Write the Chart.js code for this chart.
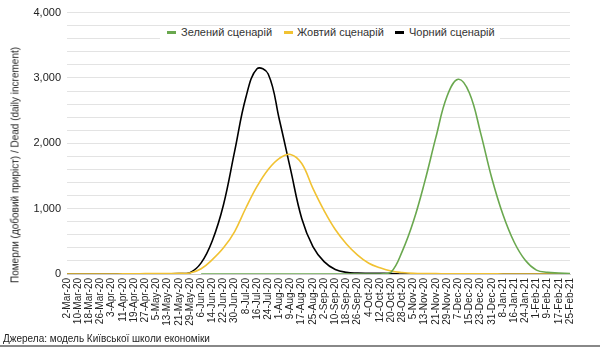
<!DOCTYPE html>
<html>
<head>
<meta charset="utf-8">
<script src="https://cdn.jsdelivr.net/npm/chart.js@4/dist/chart.umd.min.js"></script>
<style>
  body { margin: 0; background: #fff; }
  #wrap { position: relative; width: 600px; height: 348px; font-family: "Liberation Sans", Arial, sans-serif; }
  #ytitle { position: absolute; left: 15px; top: 165px; transform: translate(-50%, -50%) rotate(-90deg); white-space: nowrap; font-size: 10px; color: #222; }
  #legend { position: absolute; left: 160px; top: 26px; width: 340px; height: 14px; background: #fff; }
  .item { position: absolute; top: 0; font-size: 11px; color: #333; line-height: 13px; white-space: nowrap; }
  .mark { position: absolute; top: 5px; width: 9px; height: 3px; }
  #source { position: absolute; left: 3px; top: 333px; font-size: 10px; color: #222; white-space: nowrap; }
  #rule { position: absolute; left: 0; top: 345px; width: 600px; height: 2px; background: #888; }
</style>
</head>
<body>
<div id="wrap">
  <canvas id="chart" width="600" height="348"></canvas>
  <div id="ytitle">Померли (добовий приріст) / Dead (daily increment)</div>
  <div id="legend"></div>
  <div id="source">Джерела: модель Київської школи економіки</div>
  <div id="rule"></div>
</div>
<script>
// tick dates, every 8 days
var dates = [
  "2-Mar-20", "10-Mar-20", "18-Mar-20", "26-Mar-20", "3-Apr-20", "11-Apr-20", "19-Apr-20", "27-Apr-20",
  "5-May-20", "13-May-20", "21-May-20", "29-May-20", "6-Jun-20", "14-Jun-20", "22-Jun-20", "30-Jun-20",
  "8-Jul-20", "16-Jul-20", "24-Jul-20", "1-Aug-20", "9-Aug-20", "17-Aug-20", "25-Aug-20", "2-Sep-20",
  "10-Sep-20", "18-Sep-20", "26-Sep-20", "4-Oct-20", "12-Oct-20", "20-Oct-20", "28-Oct-20", "5-Nov-20",
  "13-Nov-20", "21-Nov-20", "29-Nov-20", "7-Dec-20", "15-Dec-20", "23-Dec-20", "31-Dec-20", "8-Jan-21",
  "16-Jan-21", "24-Jan-21", "1-Feb-21", "9-Feb-21", "17-Feb-21", "25-Feb-21"
];

var seriesNames = ["Зелений сценарій", "Жовтий сценарій", "Чорний сценарій"];
var seriesColors = ["#6aa84f", "#f1c232", "#000000"];

var greenDead = [
  null, null, null, null, null, null, null, null, null, null, null, null,
  0, 0, 0, 0, 0, 0, 0, 0, 0, 0, 0, 0, 0, 0, 0, 0, 0,
  30, 350, 810, 1410, 2090, 2720, 2980, 2770, 2160, 1470, 910, 490, 210, 60, 25, 15, 5
];
var yellowDead = [
  0, 0, 0, 0, 0, 2, 3, 5, 6, 8, 10, 15,
  80, 220, 400, 650, 1010, 1340, 1600, 1770, 1830, 1690, 1310, 970, 680, 460, 290, 165, 95,
  45, 22, 10, 6, 5, 4, 3, 3, 2, 2, 1, 1, 1, 0, 0, 0, 0
];
var blackDead = [
  0, 0, 0, 0, 0, 0, 0, 0, 0, 2, 5, 20,
  170, 510, 1060, 1880, 2700, 3140, 3060, 2360, 1600, 850, 420, 190, 70, 25, 15, 12, 10,
  8, 0, 0, 0, 0, 0, 0, 0, 0, 0, 0, 0, 0, 0, 0, 0, 0
];

var yTicks = [0, 1000, 2000, 3000, 4000];

var allSeries = [greenDead, yellowDead, blackDead];
var datasets = allSeries.map(function(vals, i) {
  return {
    label: seriesNames[i],
    data: vals,
    borderColor: seriesColors[i],
    backgroundColor: seriesColors[i],
    borderWidth: 1.6,
    pointRadius: 0,
    fill: false,
    tension: 0.4
  };
});

// html legend
var legendPos = [[7, 21], [124, 137], [235, 249]];
var legend = document.getElementById('legend');
seriesNames.forEach(function(name, i) {
  var m = document.createElement('span');
  m.className = 'mark';
  m.style.left = legendPos[i][0] + 'px';
  m.style.background = seriesColors[i];
  legend.appendChild(m);
  var t = document.createElement('span');
  t.className = 'item';
  t.style.left = legendPos[i][1] + 'px';
  t.textContent = name;
  legend.appendChild(t);
});

var font = "'Liberation Sans', Arial, sans-serif";
var ctx = document.getElementById('chart').getContext('2d');
var chart = new Chart(ctx, {
  type: 'line',
  data: { labels: dates, datasets: datasets },
  options: {
    responsive: false,
    animation: false,
    devicePixelRatio: 1,
    layout: { padding: { top: 7, right: 30, bottom: 0, left: 0 } },
    plugins: { legend: { display: false }, tooltip: { enabled: false } },
    scales: {
      x: {
        grid: { display: false, drawTicks: false },
        border: { color: '#cccccc' },
        ticks: {
          autoSkip: false, minRotation: 90, maxRotation: 90, padding: 4,
          color: '#222', font: { family: font, size: 10 }
        },
        afterFit: function(s) { s.height = 74; }
      },
      y: {
        min: 0, max: 4000,
        grid: { color: '#e3e3e3', drawTicks: false },
        border: { display: false },
        ticks: {
          stepSize: 200, autoSkip: false, padding: 6,
          color: '#222', font: { family: font, size: 11 },
          callback: function(v) { return yTicks.indexOf(v) >= 0 ? v.toLocaleString('en-US') : ''; }
        },
        afterFit: function(s) { s.width = 67; }
      }
    }
  }
});
</script>
</body>
</html>
